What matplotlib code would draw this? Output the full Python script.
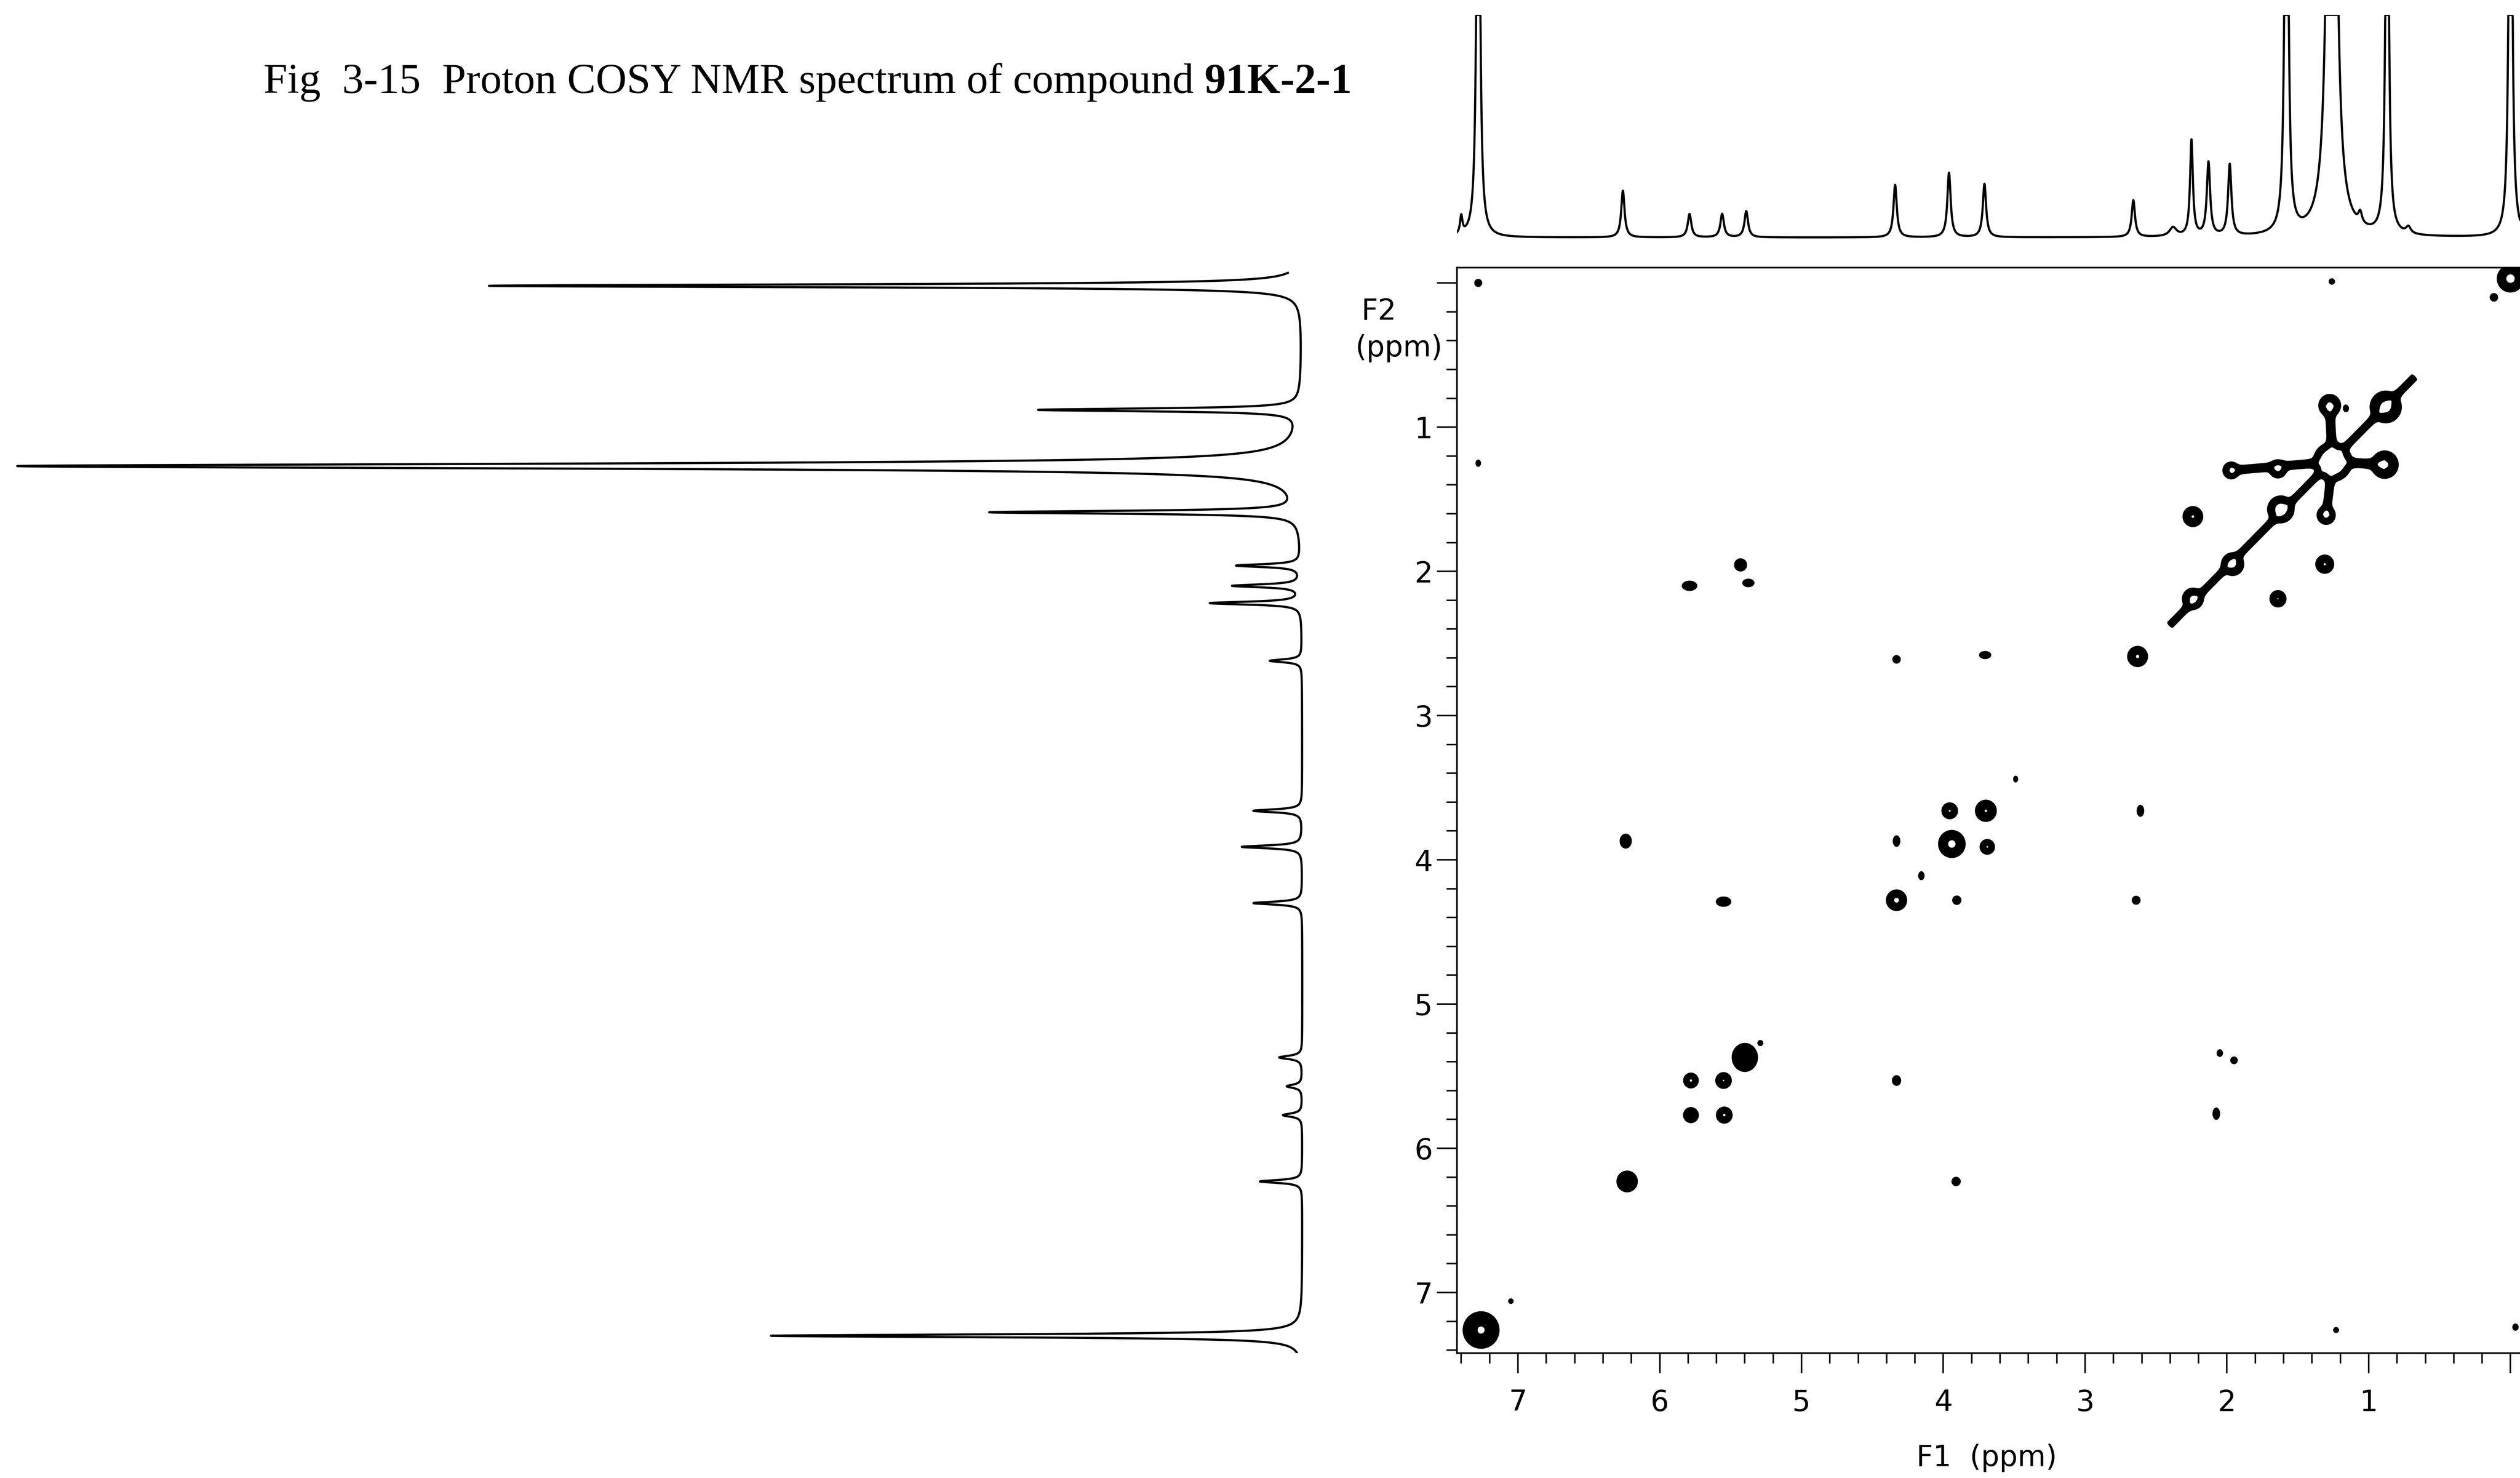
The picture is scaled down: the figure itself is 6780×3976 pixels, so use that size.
import numpy as np
import matplotlib
matplotlib.use("Agg")
import matplotlib.pyplot as plt
from matplotlib.ticker import FixedLocator, MultipleLocator, FuncFormatter

# ---- 1D trace on top (F1): shift in ppm, height (1.0 = pen limit), half width
top_shift = [7.40, 7.28, 6.26, 5.79, 5.56, 5.39, 4.34, 3.96, 3.71, 2.66, 2.38,
             2.25, 2.13, 1.98, 1.58, 1.26, 1.06, 0.87, 0.72, 0.00]
top_height = [0.08, 3.0, 0.21, 0.105, 0.105, 0.118, 0.236, 0.29, 0.24, 0.165, 0.04,
              0.43, 0.33, 0.32, 3.2, 8.0, 0.05, 2.5, 0.03, 3.0]
top_width = [0.010, 0.011, 0.014, 0.015, 0.015, 0.015, 0.014, 0.014, 0.014, 0.014, 0.03,
             0.012, 0.014, 0.014, 0.011, 0.018, 0.015, 0.011, 0.02, 0.011]

# ---- 1D trace on the left (F2), peaks pointing left, 1.27 ppm line = 100
left_shift = [0.02, 0.88, 1.27, 1.59, 1.96, 2.10, 2.22, 2.62, 3.66, 3.91, 4.30,
              5.37, 5.57, 5.77, 6.23, 7.30]
left_height = [63.3, 20.3, 100, 24.0, 5.0, 5.3, 7.1, 2.5, 3.8, 4.7, 3.8,
               1.8, 1.2, 1.5, 3.3, 41.4]
left_width = [0.012, 0.012, 0.02, 0.012, 0.012, 0.012, 0.012, 0.012, 0.012, 0.012, 0.012,
              0.014, 0.014, 0.014, 0.012, 0.012]

# ---- COSY cross / diagonal peaks: F1, F2 (ppm), amplitude, widths
cosy_f1 = [0.00, 7.26, 0.88, 1.275, 0.887, 1.255, 1.64, 1.97, 1.30, 1.62,
           2.24, 1.96, 2.24, 1.31, 1.64, 2.63, 3.955, 3.70, 3.94, 3.69,
           4.33, 5.78, 5.55, 5.78, 5.545, 6.23, 5.40, 5.29,
           7.28, 1.26, 7.28, 0.117, 1.16, 5.43, 5.79, 5.375, 4.33, 3.705,
           3.49, 2.61, 4.33, 6.24, 4.155, 3.905, 2.64, 5.55, 7.05, 1.23,
           -0.035, 2.075, 2.05, 1.95, 3.91, 4.33]
cosy_f2 = [-0.03, 7.26, 0.86, 0.85, 1.26, 1.24, 1.29, 1.30, 1.61, 1.57,
           1.62, 1.95, 2.19, 1.95, 2.19, 2.59, 3.66, 3.66, 3.89, 3.91,
           4.28, 5.53, 5.53, 5.77, 5.77, 6.23, 5.37, 5.27,
           0.00, -0.01, 1.25, 0.10, 0.87, 1.955, 2.10, 2.08, 2.61, 2.58,
           3.44, 3.66, 3.87, 3.87, 4.11, 4.28, 4.28, 4.29, 7.06, 7.26,
           7.24, 5.76, 5.34, 5.39, 6.23, 5.53]
cosy_amp = [11.1, 9.0, 10.9, 10.6, 9.9, 40, 9.4, 9.6, 10.7, 14.5,
            8.7, 10.4, 10.0, 8.7, 8.5, 9.0, 8.8, 8.6, 10.3, 8.8,
            9.8, 9.2, 8.6, 7.0, 9.1, 7.0, 7.5, 2.5,
            3, 3, 3, 3, 3, 3, 3, 3, 3, 3,
            3, 3, 3, 3, 3, 3, 3, 3, 3, 3,
            3, 3, 3, 3, 3, 3]
cosy_s1 = [0.042, 0.060, 0.050, 0.035, 0.044, 0.050, 0.029, 0.027, 0.029, 0.040,
           0.033, 0.036, 0.034, 0.030, 0.027, 0.033, 0.026, 0.035, 0.043, 0.024,
           0.033, 0.024, 0.026, 0.026, 0.026, 0.036, 0.044, 0.012,
           0.016, 0.012, 0.010, 0.017, 0.011, 0.028, 0.034, 0.026, 0.017, 0.026,
           0.009, 0.015, 0.015, 0.026, 0.012, 0.019, 0.018, 0.034, 0.010, 0.011,
           0.012, 0.015, 0.012, 0.015, 0.019, 0.019]
cosy_s2 = [0.042, 0.060, 0.050, 0.035, 0.044, 0.050, 0.029, 0.027, 0.029, 0.040,
           0.033, 0.036, 0.034, 0.030, 0.027, 0.033, 0.026, 0.035, 0.043, 0.024,
           0.033, 0.024, 0.026, 0.026, 0.026, 0.036, 0.048, 0.012,
           0.016, 0.012, 0.014, 0.017, 0.015, 0.028, 0.021, 0.017, 0.017, 0.016,
           0.013, 0.025, 0.024, 0.032, 0.018, 0.019, 0.018, 0.021, 0.010, 0.011,
           0.014, 0.026, 0.015, 0.015, 0.019, 0.022]

# ridges: diagonal of the aliphatic block plus the arms around the 1.26 ppm peak
ridge_x0 = [2.40, 1.255, 1.255, 1.255, 1.255]
ridge_y0 = [2.37, 1.24, 1.24, 1.24, 1.24]
ridge_x1 = [0.68, 1.97, 0.887, 1.275, 1.30]
ridge_y1 = [0.655, 1.30, 1.26, 0.85, 1.61]
ridge_amp = [3.0, 3.2, 3.4, 3.4, 3.2]
ridge_sigma = [0.016, 0.018, 0.019, 0.019, 0.018]

contour_levels = [1.0, 8.0]

f1_lim = (7.43, -0.067)
f2_lim = (7.42, -0.106)


def lorentz(x, pos, h, w):
    return h / (1.0 + ((x - pos) / w) ** 2)


W, H = 6780, 3976
fig = plt.figure(figsize=(W / 100, H / 100), dpi=100)
fig.patch.set_facecolor("white")

ax2d = fig.add_axes([3920 / W, 1 - 3640 / H, 1 - 3920 / W, 2920 / H])
axtop = fig.add_axes([3920 / W, 1 - 660 / H, 1 - 3920 / W, 620 / H], sharex=ax2d)
axleft = fig.add_axes([0, 1 - 3640 / H, 3560 / W, 2920 / H], sharey=ax2d)

# ---- 2D contour map
g1 = np.arange(-0.12, 7.46, 0.004)
g2 = np.arange(-0.12, 7.46, 0.004)
Z = np.zeros((g2.size, g1.size))
for x0, y0, a, s1, s2 in zip(cosy_f1, cosy_f2, cosy_amp, cosy_s1, cosy_s2):
    gx = np.exp(-0.5 * ((g1 - x0) / s1) ** 2)
    gy = np.exp(-0.5 * ((g2 - y0) / s2) ** 2)
    Z += a * np.outer(gy, gx)

X, Y = np.meshgrid(g1, g2)
for xa, ya, xb, yb, a, s in zip(ridge_x0, ridge_y0, ridge_x1, ridge_y1,
                                ridge_amp, ridge_sigma):
    L = np.hypot(xb - xa, yb - ya)
    ux, uy = (xb - xa) / L, (yb - ya) / L
    t = (X - xa) * ux + (Y - ya) * uy
    d = -(X - xa) * uy + (Y - ya) * ux
    inside = np.clip(np.minimum(t, L - t) / 0.01 + 1.0, 0, 1)
    Z += a * np.exp(-0.5 * (d / s) ** 2) * inside

ax2d.contourf(g1, g2, Z, levels=contour_levels, colors="black")
ax2d.contour(g1, g2, Z, levels=contour_levels, colors="black", linewidths=2.5)

ax2d.set_xlim(*f1_lim)
ax2d.set_ylim(*f2_lim)

for side in ["left", "bottom", "top"]:
    ax2d.spines[side].set_linewidth(3.2)
ax2d.spines["right"].set_visible(False)

ax2d.xaxis.set_major_locator(FixedLocator([0, 1, 2, 3, 4, 5, 6, 7]))
ax2d.yaxis.set_major_locator(FixedLocator([0, 1, 2, 3, 4, 5, 6, 7]))
ax2d.xaxis.set_minor_locator(MultipleLocator(0.2))
ax2d.yaxis.set_minor_locator(MultipleLocator(0.2))
skip_zero = FuncFormatter(lambda v, p: "" if abs(v) < 1e-9 else "%d" % round(v))
ax2d.xaxis.set_major_formatter(skip_zero)
ax2d.yaxis.set_major_formatter(skip_zero)
ax2d.tick_params(which="major", direction="out", length=39, width=3.0,
                 labelsize=56, pad=30)
ax2d.tick_params(which="minor", direction="out", length=20, width=3.0)
ax2d.tick_params(axis="y", which="major", pad=8)
ax2d.tick_params(top=False, right=False, which="both")

fig.text(3662 / W, 1 - 838 / H, "F2", ha="left", va="center", fontsize=56)
fig.text(3881 / W, 1 - 937 / H, "(ppm)", ha="right", va="center", fontsize=56)
fig.text(5345 / W, 1 - 3922 / H, "F1  (ppm)", ha="center", va="center", fontsize=56)

# ---- top trace
xs = np.linspace(f1_lim[0], f1_lim[1], 6000)
ys = np.zeros_like(xs)
for pos, h, w in zip(top_shift, top_height, top_width):
    ys += lorentz(xs, pos, h, w)
axtop.plot(xs, np.minimum(ys, 1.0), color="black", lw=4.2)
axtop.set_ylim(-0.035, 1.0)
axtop.axis("off")

# ---- left trace
yl = np.linspace(-0.07, 7.43, 8000)
xl = np.zeros_like(yl)
for pos, h, w in zip(left_shift, left_height, left_width):
    xl += lorentz(yl, pos, h, w)
axleft.plot(xl, yl, color="black", lw=4.2)
axleft.set_xlim(101.4, -1.62)
axleft.axis("off")

# ---- caption
cap_font = ["Liberation Serif", "DejaVu Serif"]
y_cap = 1 - 250 / H
t1 = fig.text(709 / W, y_cap, "Fig  3-15  Proton COSY NMR spectrum of compound ",
              family=cap_font, fontsize=83, va="baseline", ha="left")
fig.canvas.draw()
bb = t1.get_window_extent()
fig.text(bb.x1 / fig.bbox.width, y_cap, "91K-2-1", family=cap_font,
         fontweight="bold", fontsize=83, va="baseline", ha="left")

fig.savefig("out.png", dpi=100, facecolor="white")
